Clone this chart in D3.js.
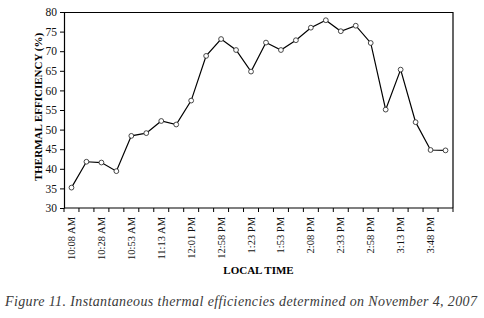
<!DOCTYPE html>
<html>
<head>
<meta charset="utf-8">
<script src="https://cdn.jsdelivr.net/npm/d3@7"></script>
<style>
  body { margin: 0; background: #fff; }
  text { font-family: "Liberation Serif", "Times New Roman", serif; }
</style>
</head>
<body>
<div id="container"></div>
<script>
// readings from the figure, one per sample
const times = ["10:08 AM", "10:18 AM", "10:28 AM", "10:43 AM", "10:53 AM", "11:03 AM", "11:13 AM",
  "11:33 AM", "12:01 PM", "12:33 PM", "12:58 PM", "1:13 PM", "1:23 PM", "1:43 PM", "1:53 PM",
  "2:03 PM", "2:08 PM", "2:23 PM", "2:33 PM", "2:48 PM", "2:58 PM", "3:08 PM", "3:13 PM",
  "3:33 PM", "3:48 PM", "3:58 PM"]
const efficiency = [35.2, 41.8, 41.6, 39.4, 48.4, 49.1, 52.2, 51.3, 57.4, 68.8, 73.1, 70.3, 64.8,
  72.2, 70.3, 72.8, 76.0, 77.9, 75.1, 76.5, 72.1, 55.1, 65.3, 51.9, 44.8, 44.7]
const yTicks = [30, 35, 40, 45, 50, 55, 60, 65, 70, 75, 80]
// only every other time is labelled on the axis
const shownTimes = times.filter((d, i) => i % 2 == 0)

const W = 484, H = 318
const margin = { top: 12, right: 31, bottom: 110, left: 64 }
const width = W - margin.left - margin.right
const height = H - margin.top - margin.bottom

const svg = d3.select("#container")
  .append("svg")
  .attr("width", W)
  .attr("height", H)
  .style("background-color", "#fff")

const g = svg.append("g")
  .attr("transform", `translate(${margin.left}, ${margin.top})`)

const xScale = d3.scaleBand()
  .domain(times)
  .range([0, width])

const yScale = d3.scaleLinear()
  .domain([30, 80])
  .range([height, 0])

// frame: top and right edges
g.append("path")
  .attr("d", `M0,0.5H${width}V${height}`)
  .attr("fill", "none")
  .attr("stroke", "#000")
  .attr("stroke-width", 1.2)

// x axis, ticks between categories
const xAxis = g.append("g")
  .attr("transform", `translate(0, ${height})`)
xAxis.append("line")
  .attr("x1", 0).attr("x2", width)
  .attr("stroke", "#000").attr("stroke-width", 1.2)
xAxis.selectAll(".tk")
  .data(times.concat(["end"]))
  .join("line")
  .attr("class", "tk")
  .attr("x1", (d, i) => i * xScale.step())
  .attr("x2", (d, i) => i * xScale.step())
  .attr("y1", 0).attr("y2", 4)
  .attr("stroke", "#000")
xAxis.selectAll(".lbl")
  .data(shownTimes)
  .join("text")
  .attr("class", "lbl")
  .attr("transform", d => `translate(${xScale(d) + xScale.bandwidth() / 2 + 3.5}, 9) rotate(-90)`)
  .attr("text-anchor", "end")
  .attr("font-size", 10.5)
  .attr("fill", "#111")
  .text(d => d)

// y axis
g.append("g")
  .call(d3.axisLeft(yScale).tickValues(yTicks).tickSize(4).tickSizeOuter(0))
  .call(a => a.select(".domain").attr("stroke-width", 1.2))
  .call(a => a.selectAll("text")
    .attr("font-family", "Liberation Serif, serif")
    .attr("font-size", 11.5)
    .attr("fill", "#111"))

// axis titles
svg.append("text")
  .attr("transform", `translate(42, ${margin.top + height / 2 - 3}) rotate(-90)`)
  .attr("text-anchor", "middle")
  .attr("font-size", 11)
  .attr("font-weight", "bold")
  .text("THERMAL EFFICIENCY (%)")

svg.append("text")
  .attr("x", margin.left + width / 2)
  .attr("y", 274)
  .attr("text-anchor", "middle")
  .attr("font-size", 11)
  .attr("font-weight", "bold")
  .text("LOCAL TIME")

// data line + open markers
const line = d3.line()
  .x((d, i) => xScale(times[i]) + xScale.bandwidth() / 2)
  .y(d => yScale(d))

g.append("path")
  .datum(efficiency)
  .attr("d", line)
  .attr("fill", "none")
  .attr("stroke", "#000")
  .attr("stroke-width", 1.2)

g.selectAll(".pt")
  .data(efficiency)
  .join("circle")
  .attr("class", "pt")
  .attr("cx", (d, i) => xScale(times[i]) + xScale.bandwidth() / 2)
  .attr("cy", d => yScale(d))
  .attr("r", 2.4)
  .attr("fill", "#fff")
  .attr("stroke", "#333")
  .attr("stroke-width", 0.9)

// caption
svg.append("text")
  .attr("x", 5)
  .attr("y", 306)
  .attr("font-size", 14)
  .attr("font-style", "italic")
  .attr("fill", "#3a3a3a")
  .attr("textLength", 472)
  .attr("lengthAdjust", "spacing")
  .text("Figure 11. Instantaneous thermal efficiencies determined on November 4, 2007")
</script>
</body>
</html>
